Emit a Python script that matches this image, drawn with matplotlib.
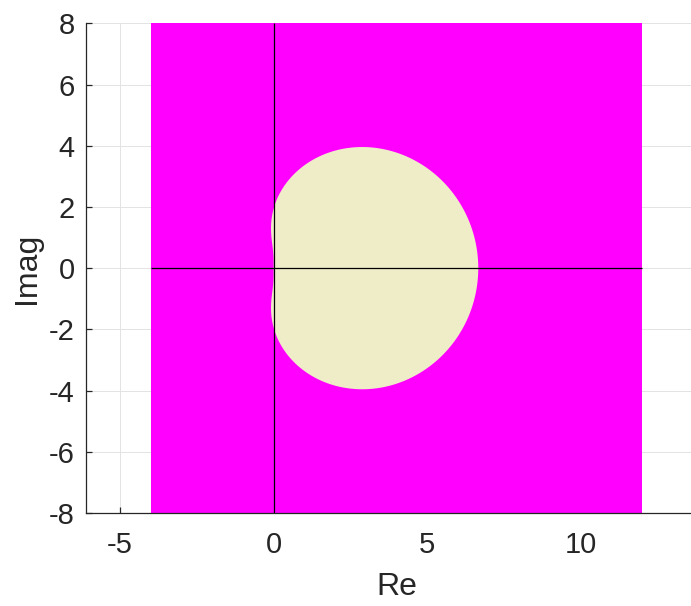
import numpy as np
import matplotlib
matplotlib.use("Agg")
import matplotlib.pyplot as plt
from matplotlib.patches import Rectangle, Polygon

# BDF3 coefficients: rho(w) = sum a_k w^k, sigma(w) = w^3
rho_coeffs = [-1/3, 3/2, -3, 11/6]   # for w^0, w^1, w^2, w^3
sigma_coeffs = [0, 0, 0, 1]
re_range = [-4, 12]
im_range = [-8, 8]
xticks = [-5, 0, 5, 10]
yticks = [-8, -6, -4, -2, 0, 2, 4, 6, 8]

plt.rcParams['font.family'] = ['Liberation Sans', 'DejaVu Sans']
plt.rcParams['axes.unicode_minus'] = False

fig = plt.figure(figsize=(6.91, 6.06), dpi=100)
ax = fig.add_axes([85.7/691, (606-513)/606, (708-85.7)/691, (513-23.3)/606])

# boundary locus
theta = np.linspace(0, 2*np.pi, 2000)
w = np.exp(1j*theta)
rho = sum(c*w**k for k, c in enumerate(rho_coeffs))
sig = sum(c*w**k for k, c in enumerate(sigma_coeffs))
z = rho/sig

ax.add_patch(Rectangle((re_range[0], im_range[0]), re_range[1]-re_range[0],
                       im_range[1]-im_range[0], facecolor='#ff00ff', edgecolor='none', zorder=1))
ax.add_patch(Polygon(np.column_stack([z.real, z.imag]), closed=True,
                     facecolor='#efedc8', edgecolor='none', zorder=2))
ax.hlines(0, re_range[0], re_range[1], color='black', lw=0.9, zorder=3)
ax.vlines(0, im_range[0], im_range[1], color='black', lw=0.9, zorder=3)

ax.set_xlim(-6.12, 14.15)
ax.set_ylim(-8, 8)
ax.set_xticks(xticks)
ax.set_yticks(yticks)
ax.set_axisbelow(True)
ax.grid(True, color='#e3e3e3', lw=0.7)
for s in ['top', 'right']:
    ax.spines[s].set_visible(False)
for s in ['left', 'bottom']:
    ax.spines[s].set_color('#262626')
    ax.spines[s].set_linewidth(0.9)
ax.tick_params(direction='in', length=4.5, width=0.9, colors='#262626',
               labelsize=21)
ax.tick_params(axis='x', pad=13)
ax.tick_params(axis='y', pad=8)
ax.set_xlabel('Re', fontsize=23, color='#262626', labelpad=9)
ax.set_ylabel('Imag', fontsize=23, color='#262626', labelpad=5)

fig.savefig('out.png', dpi=100)
